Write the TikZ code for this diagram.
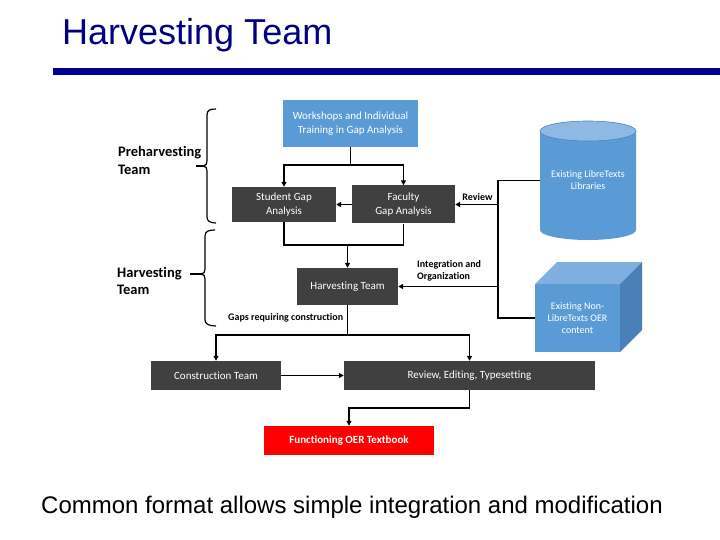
\documentclass[tikz,border=0pt]{standalone}
\usepackage{fontspec}
\setmainfont{Carlito}[Ligatures=NoCommon]
\newfontfamily\arialfont{Liberation Sans}
\usetikzlibrary{arrows.meta}
\definecolor{boxblue}{HTML}{5B9BD5}
\definecolor{boxdark}{HTML}{404040}
\definecolor{boxred}{HTML}{FF0000}
\definecolor{navy}{HTML}{000080}
\definecolor{rulecol}{HTML}{000096}
\definecolor{cyltop}{HTML}{8DB9E4}
\definecolor{cubetop}{HTML}{7FAEE0}
\definecolor{cubeside}{HTML}{4A7FB8}
\definecolor{edgeblue}{HTML}{4C84BE}
\tikzset{
  procbox/.style={rectangle, draw=none, text=white, align=center, inner sep=0pt,
    font=\fontsize{11}{13.5}\selectfont},
  darkbox/.style={procbox, fill=boxdark},
  bluebox/.style={procbox, fill=boxblue},
  redbox/.style={procbox, fill=boxred, font=\bfseries\fontsize{11}{13.5}\selectfont},
  storetext/.style={rectangle, draw=none, text=white, align=center, inner sep=0pt,
    font=\fontsize{10}{12}\selectfont},
  conn/.style={draw=black, line width=1.8pt},
  arr/.style={-{Triangle[length=5pt,width=5pt]}},
  edgelabel/.style={font=\bfseries\fontsize{10}{12}\selectfont, inner sep=0pt},
  sidelabel/.style={font=\bfseries\fontsize{14.5}{17.5}\selectfont, align=left, inner sep=0pt, anchor=west},
  bracepath/.style={draw=black, line width=1.2pt}
}
\begin{document}
\begin{tikzpicture}[x=1pt,y=-1pt]
\useasboundingbox (0,0) rectangle (720,540);

% title and rule
\node[anchor=base west, inner sep=0pt, text=navy, font=\arialfont\fontsize{36}{40}\selectfont] (title) at (62,45) {Harvesting Team};
\fill[rulecol] (53,68.5) rectangle (720,75.5);

% process boxes
\node[bluebox, minimum width=135pt, minimum height=47pt] (ws) at (350.5,123.5) {Workshops and Individual\\Training in Gap Analysis};
\node[darkbox, minimum width=104pt, minimum height=35pt] (stu) at (284,204.5) {Student Gap\\Analysis};
\node[darkbox, minimum width=103pt, minimum height=38pt] (fac) at (403.5,204.5) {Faculty\\Gap Analysis};
\node[darkbox, minimum width=101pt, minimum height=37pt] (hv) at (347.5,286.5) {Harvesting Team};
\node[darkbox, minimum width=130pt, minimum height=29pt] (con) at (216,375.5) {Construction Team};
\node[darkbox, minimum width=251pt, minimum height=29pt] (rev) at (469.5,375.5) {Review, Editing, Typesetting};
\node[redbox, minimum width=170pt, minimum height=29pt] (fun) at (349,440.5) {Functioning OER Textbook};

% cylinder
\fill[boxblue] (540,131) -- (540,230) arc[start angle=180, end angle=0, x radius=48, y radius=10] -- (636,131) -- cycle;
\filldraw[fill=cyltop, draw=edgeblue, line width=0.6pt] (588,131) ellipse[x radius=48, y radius=10];
\node[storetext, minimum width=96pt, minimum height=119pt] (cyl) at (588,180.5) {Existing LibreTexts\\Libraries};

% cube
\fill[cubetop] (535,284) -- (557,262) -- (642,262) -- (620,284) -- cycle;
\fill[cubeside] (620,284) -- (642,262) -- (642,330) -- (620,352) -- cycle;
\fill[boxblue] (535,284) rectangle (620,352);
\node[storetext, minimum width=85pt, minimum height=68pt] (cube) at (577.5,318) {Existing Non-\\LibreTexts OER\\content};

% connectors
\coordinate (j1) at (350.5,165);
\draw[conn] (ws.south) -- (j1);
\draw[conn,arr] (j1) -| (stu.north);
\draw[conn,arr] (j1) -| (fac.north);
\draw[conn,arr] (fac.west) -- (stu.east);

\coordinate (j2) at (347.5,245);
\draw[conn] (stu.south) |- (j2);
\draw[conn] (fac.south) |- (j2);
\draw[conn,arr] (j2) -- (hv.north);

\coordinate (bx) at (498,0);
\draw[conn] (cyl.west) -- (cyl.west -| bx) -- (cube.west -| bx) -- (cube.west);
\draw[conn,arr] (fac.east -| bx) -- (fac.east);
\draw[conn,arr] (hv.east -| bx) -- (hv.east);

\coordinate (j3) at (347.5,335);
\draw[conn] (hv.south) -- (j3);
\draw[conn,arr] (j3) -| (con.north);
\draw[conn,arr] (j3) -| (rev.north);

\draw[conn,arr] (con.east) -- (rev.west);

\coordinate (j4) at (469.5,408);
\draw[conn] (rev.south) -- (j4);
\draw[conn,arr] (j4) -| (fun.north);

% connector labels
\node[edgelabel] (lreview) at (477.5,197) {Review};
\node[edgelabel, anchor=west, align=left] (lint) at (417,271) {Integration and\\Organization};
\node[edgelabel, anchor=west] (lgaps) at (228,318) {Gaps requiring construction};

% side labels and braces
\node[sidelabel] (lpre) at (118,160.5) {Preharvesting\\Team};
\node[sidelabel] (lharv) at (117,281) {Harvesting\\Team};

\draw[bracepath] (216,109) .. controls (210,109) and (207,110) .. (207,115) -- (207,161)
  .. controls (207,164) and (206,166) .. (203,166)
  .. controls (206,166) and (207,168) .. (207,171) -- (207,217)
  .. controls (207,221) and (210,223) .. (216,223);
\draw[bracepath] (196,166) -- (203,166);

\draw[bracepath] (215,230) .. controls (209,230) and (205,231) .. (205,236) -- (205,269)
  .. controls (205,272) and (204,274) .. (201,274)
  .. controls (204,274) and (205,276) .. (205,279) -- (205,320)
  .. controls (205,324) and (209,326) .. (216,326);
\draw[bracepath] (190,274) -- (201,274);

% bottom text
\node[anchor=base west, inner sep=0pt, font=\arialfont\fontsize{24}{28}\selectfont] (foot) at (41,513) {Common format allows simple integration and modification};
\end{tikzpicture}
\end{document}
